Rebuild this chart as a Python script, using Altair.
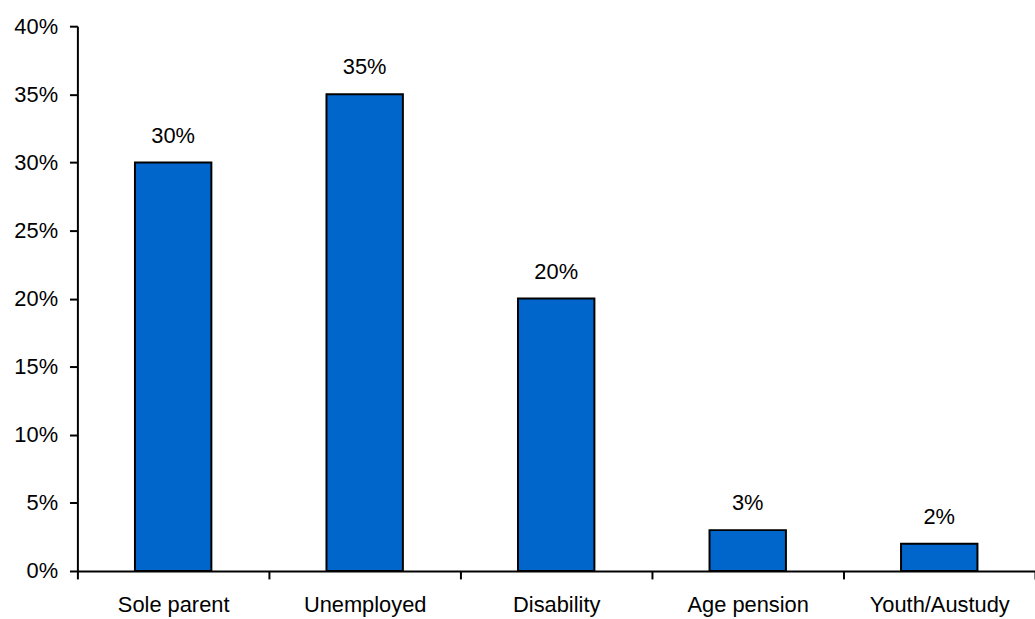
import altair as alt
import pandas as pd

categories = ["Sole parent", "Unemployed", "Disability", "Age pension", "Youth/Austudy"]
values = [0.30, 0.35, 0.20, 0.03, 0.02]

df = pd.DataFrame({"category": categories, "value": values})

FONT = "Liberation Sans"
FS = 22

base = alt.Chart(df).encode(
    x=alt.X("category:N", sort=categories,
            scale=alt.Scale(paddingInner=0, paddingOuter=0),
            axis=alt.Axis(title=None, labelAngle=0, tickBand="extent",
                          domainColor="black", domainWidth=2, tickColor="black",
                          tickWidth=2, tickSize=8, labelPadding=16,
                          labelFont=FONT, labelFontSize=FS, labelColor="black",
                          grid=False)),
    y=alt.Y("value:Q",
            scale=alt.Scale(domain=[0, 0.4], nice=False),
            axis=alt.Axis(title=None, format=".0%", values=[i * 0.05 for i in range(9)],
                          domainColor="black", domainWidth=2, tickColor="black",
                          tickWidth=2, tickSize=8, labelPadding=12,
                          labelFont=FONT, labelFontSize=FS, labelColor="black",
                          grid=False)),
)

bars = base.mark_bar(size=77, color="#0066CC", stroke="black", strokeWidth=2)
labels = base.mark_text(dy=-20, baseline="alphabetic", font=FONT, fontSize=FS, color="black").encode(
    text=alt.Text("value:Q", format=".0%")
)

chart = (bars + labels).properties(
    width=965, height=549,
    autosize=alt.AutoSizeParams(type="none"),
    padding={"left": 78, "top": 24, "right": 0, "bottom": 46},
).configure_view(stroke=None)

chart.save("out.html", embed_options={"renderer": "svg", "actions": False})
